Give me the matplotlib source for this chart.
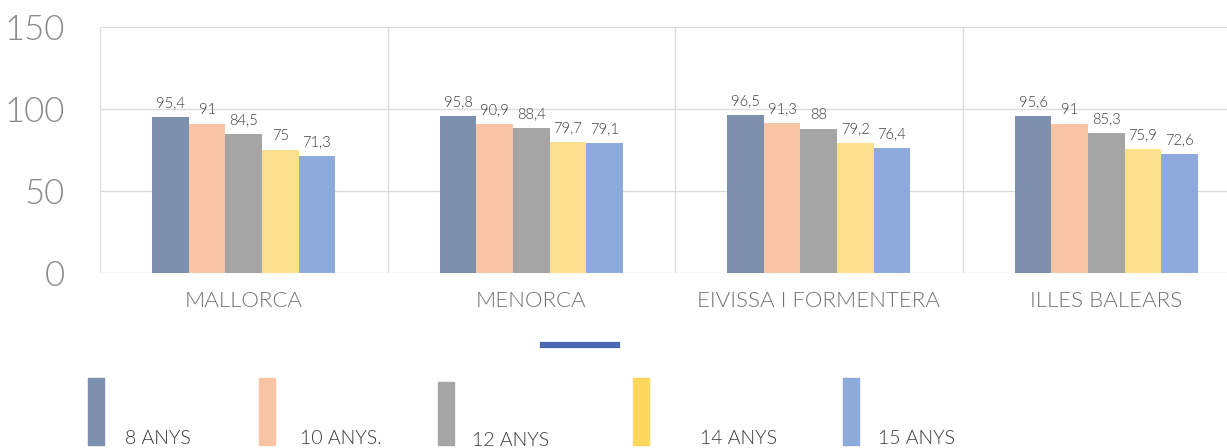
import matplotlib
matplotlib.use('Agg')
import matplotlib.pyplot as plt
from matplotlib.patches import Rectangle
from matplotlib.lines import Line2D
import numpy as np

plt.rcParams['font.family'] = ['Lato', 'DejaVu Sans']

regions = ['MALLORCA', 'MENORCA', 'EIVISSA I FORMENTERA', 'ILLES BALEARS']
ages = ['8 ANYS', '10 ANYS.', '12 ANYS', '14 ANYS', '15 ANYS']
anys_8 = [95.4, 95.8, 96.5, 95.6]
anys_10 = [91, 90.9, 91.3, 91]
anys_12 = [84.5, 88.4, 88, 85.3]
anys_14 = [75, 79.7, 79.2, 75.9]
anys_15 = [71.3, 79.1, 76.4, 72.6]
series = [anys_8, anys_10, anys_12, anys_14, anys_15]

bar_colors = ['#7d91ae', '#f8c4a3', '#a5a5a5', '#fde08e', '#8eaadc']
key_colors = ['#7d91ae', '#f8c4a3', '#a5a5a5', '#fdd65c', '#8eaadc']

W, H = 1227, 448
fig = plt.figure(figsize=(W / 100, H / 100), dpi=100)
ax = fig.add_axes([100 / W, 175 / H, 1150 / W, 246 / H])

x = np.arange(len(regions))
bw = 0.127
for i, vals in enumerate(series):
    pos = x + (i - 2) * bw
    bars = ax.bar(pos, vals, width=bw, color=bar_colors[i], zorder=3)
    for b, v in zip(bars, vals):
        ax.annotate(f'{v:g}'.replace('.', ','),
                    (b.get_x() + b.get_width() / 2, v),
                    xytext=(0, 5), textcoords='offset points',
                    ha='center', va='bottom', fontsize=10.5,
                    color='#383838', fontweight=300)

ax.set_xlim(-0.5, 3.5)
ax.set_ylim(0, 150)
ax.set_yticks([0, 50, 100, 150])
ax.set_xticks(x)
ax.set_xticklabels(regions)
ax.set_xticks(np.arange(-0.5, 4, 1), minor=True)
ax.tick_params(axis='y', length=0, pad=25, labelsize=25, labelcolor='#8a8a8a')
ax.tick_params(axis='x', which='both', length=0, pad=13, labelsize=16,
               labelcolor='#6e6e6e')
for lbl in ax.get_yticklabels() + ax.get_xticklabels():
    lbl.set_fontweight(300)
ax.grid(axis='y', color='#dcdcdc', linewidth=1, zorder=0)
ax.grid(axis='x', which='minor', color='#dcdcdc', linewidth=1, zorder=0)
ax.grid(axis='x', which='major', visible=False)
for s in ax.spines.values():
    s.set_visible(False)

# stray series key line above the legend
fig.add_artist(Line2D([543 / W, 617 / W], [1 - 345 / H, 1 - 345 / H],
                      color='#4a67b2', linewidth=4.5, transform=fig.transFigure))

# legend: tall swatches with the label at the bottom right
key_x = [88, 259, 438, 633, 843]
key_top = [378, 378, 382, 378, 378]
text_x = [125, 300, 472, 700, 878]
for i, lab in enumerate(ages):
    fig.add_artist(Rectangle((key_x[i] / W, 1 - 445 / H), 16 / W,
                             (445 - key_top[i]) / H, color=key_colors[i],
                             transform=fig.transFigure))
    fig.text(text_x[i] / W, 1 - (444 if i != 2 else 446) / H, lab,
             fontsize=14, color='#383838', fontweight=300,
             ha='left', va='baseline')

fig.savefig('out.png', dpi=100)
